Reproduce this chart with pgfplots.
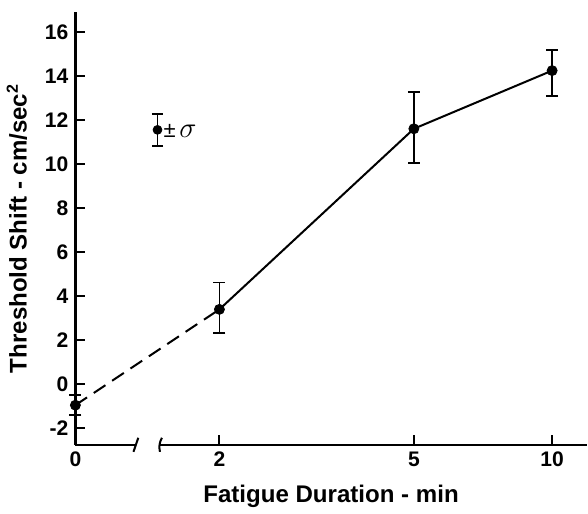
\documentclass[border=0pt]{standalone}
\usepackage{pgfplots}
\pgfplotsset{compat=1.18}
\usepackage{fontspec}
\setmainfont{Liberation Sans}
\begin{document}
\begin{tikzpicture}
\begin{axis}[
  scale only axis, width=254bp, height=215bp,
  xmin=0, xmax=3.55, ymin=-2.75, ymax=16.9,
  axis lines=left, axis line style={-, line width=1.3pt},
  xtick={0,1,2.35,3.31}, xticklabels={0,2,5,10},
  ytick={-2,0,...,16},
  xtick align=inside, ytick align=inside, major tick length=5pt,
  every tick/.style={line width=1pt, black},
  tick label style={font=\fontsize{10.5}{11}\selectfont\bfseries},
  /pgf/number format/assume math mode=true,
  xlabel={Fatigue Duration - min},
  ylabel={Threshold Shift - cm/sec\textsuperscript{2}},
  ylabel shift=2pt, xlabel shift=2pt,
  label style={font=\fontsize{12}{13}\selectfont\bfseries},
  clip=false,
]
% dashed part from 0 to 2 min
\addplot[black, line width=1pt, dash pattern=on 7pt off 4pt]
  coordinates {(0,-0.95) (1,3.4)};
% solid part
\addplot[black, line width=1pt]
  coordinates {(1,3.4) (2.35,11.6) (3.31,14.24)};
% means with error bars
\addplot[black, only marks, mark=*, mark size=2.5pt,
  error bars/.cd, y dir=both, y explicit,
  error bar style={line width=0.9pt},
  error mark options={rotate=90, mark size=3pt, line width=0.9pt}]
  coordinates {
    (0,-0.95) += (0,0.45) -= (0,0.45)
    (1,3.4) += (0,1.22) -= (0,1.07)
    (2.35,11.6) += (0,1.68) -= (0,1.55)
    (3.31,14.24) += (0,0.92) -= (0,1.14)
  };
% key symbol
\addplot[black, only marks, mark=*, mark size=2.2pt,
  error bars/.cd, y dir=both, y explicit,
  error bar style={line width=0.9pt},
  error mark options={rotate=90, mark size=2.8pt, line width=0.9pt}]
  coordinates {(0.57,11.55) +- (0,0.72)};
\node[anchor=west, inner sep=0pt] at (axis cs:0.61,11.5) {\fontsize{11}{12}\selectfont ±\,\fontsize{15}{15}\selectfont$\sigma$};
\coordinate (b1) at (axis cs:0.42,-2.75);
\coordinate (b2) at (axis cs:0.58,-2.75);
\coordinate (tl) at (axis cs:0,16.9);
\end{axis}
% axis break
\fill[white] ([yshift=-2pt]b1) rectangle ([yshift=2pt]b2);
\draw[line width=1pt] ([xshift=-1.2pt,yshift=-3.5pt]b1) -- ([xshift=1.2pt,yshift=3.5pt]b1);
\draw[line width=1pt] ([xshift=0.5pt,yshift=-3.5pt]b2) to[bend left=20] ([xshift=1.5pt,yshift=3.5pt]b2);
% room above
\path ([yshift=6pt]tl) -- ++(1pt,0);
\end{tikzpicture}
\end{document}
